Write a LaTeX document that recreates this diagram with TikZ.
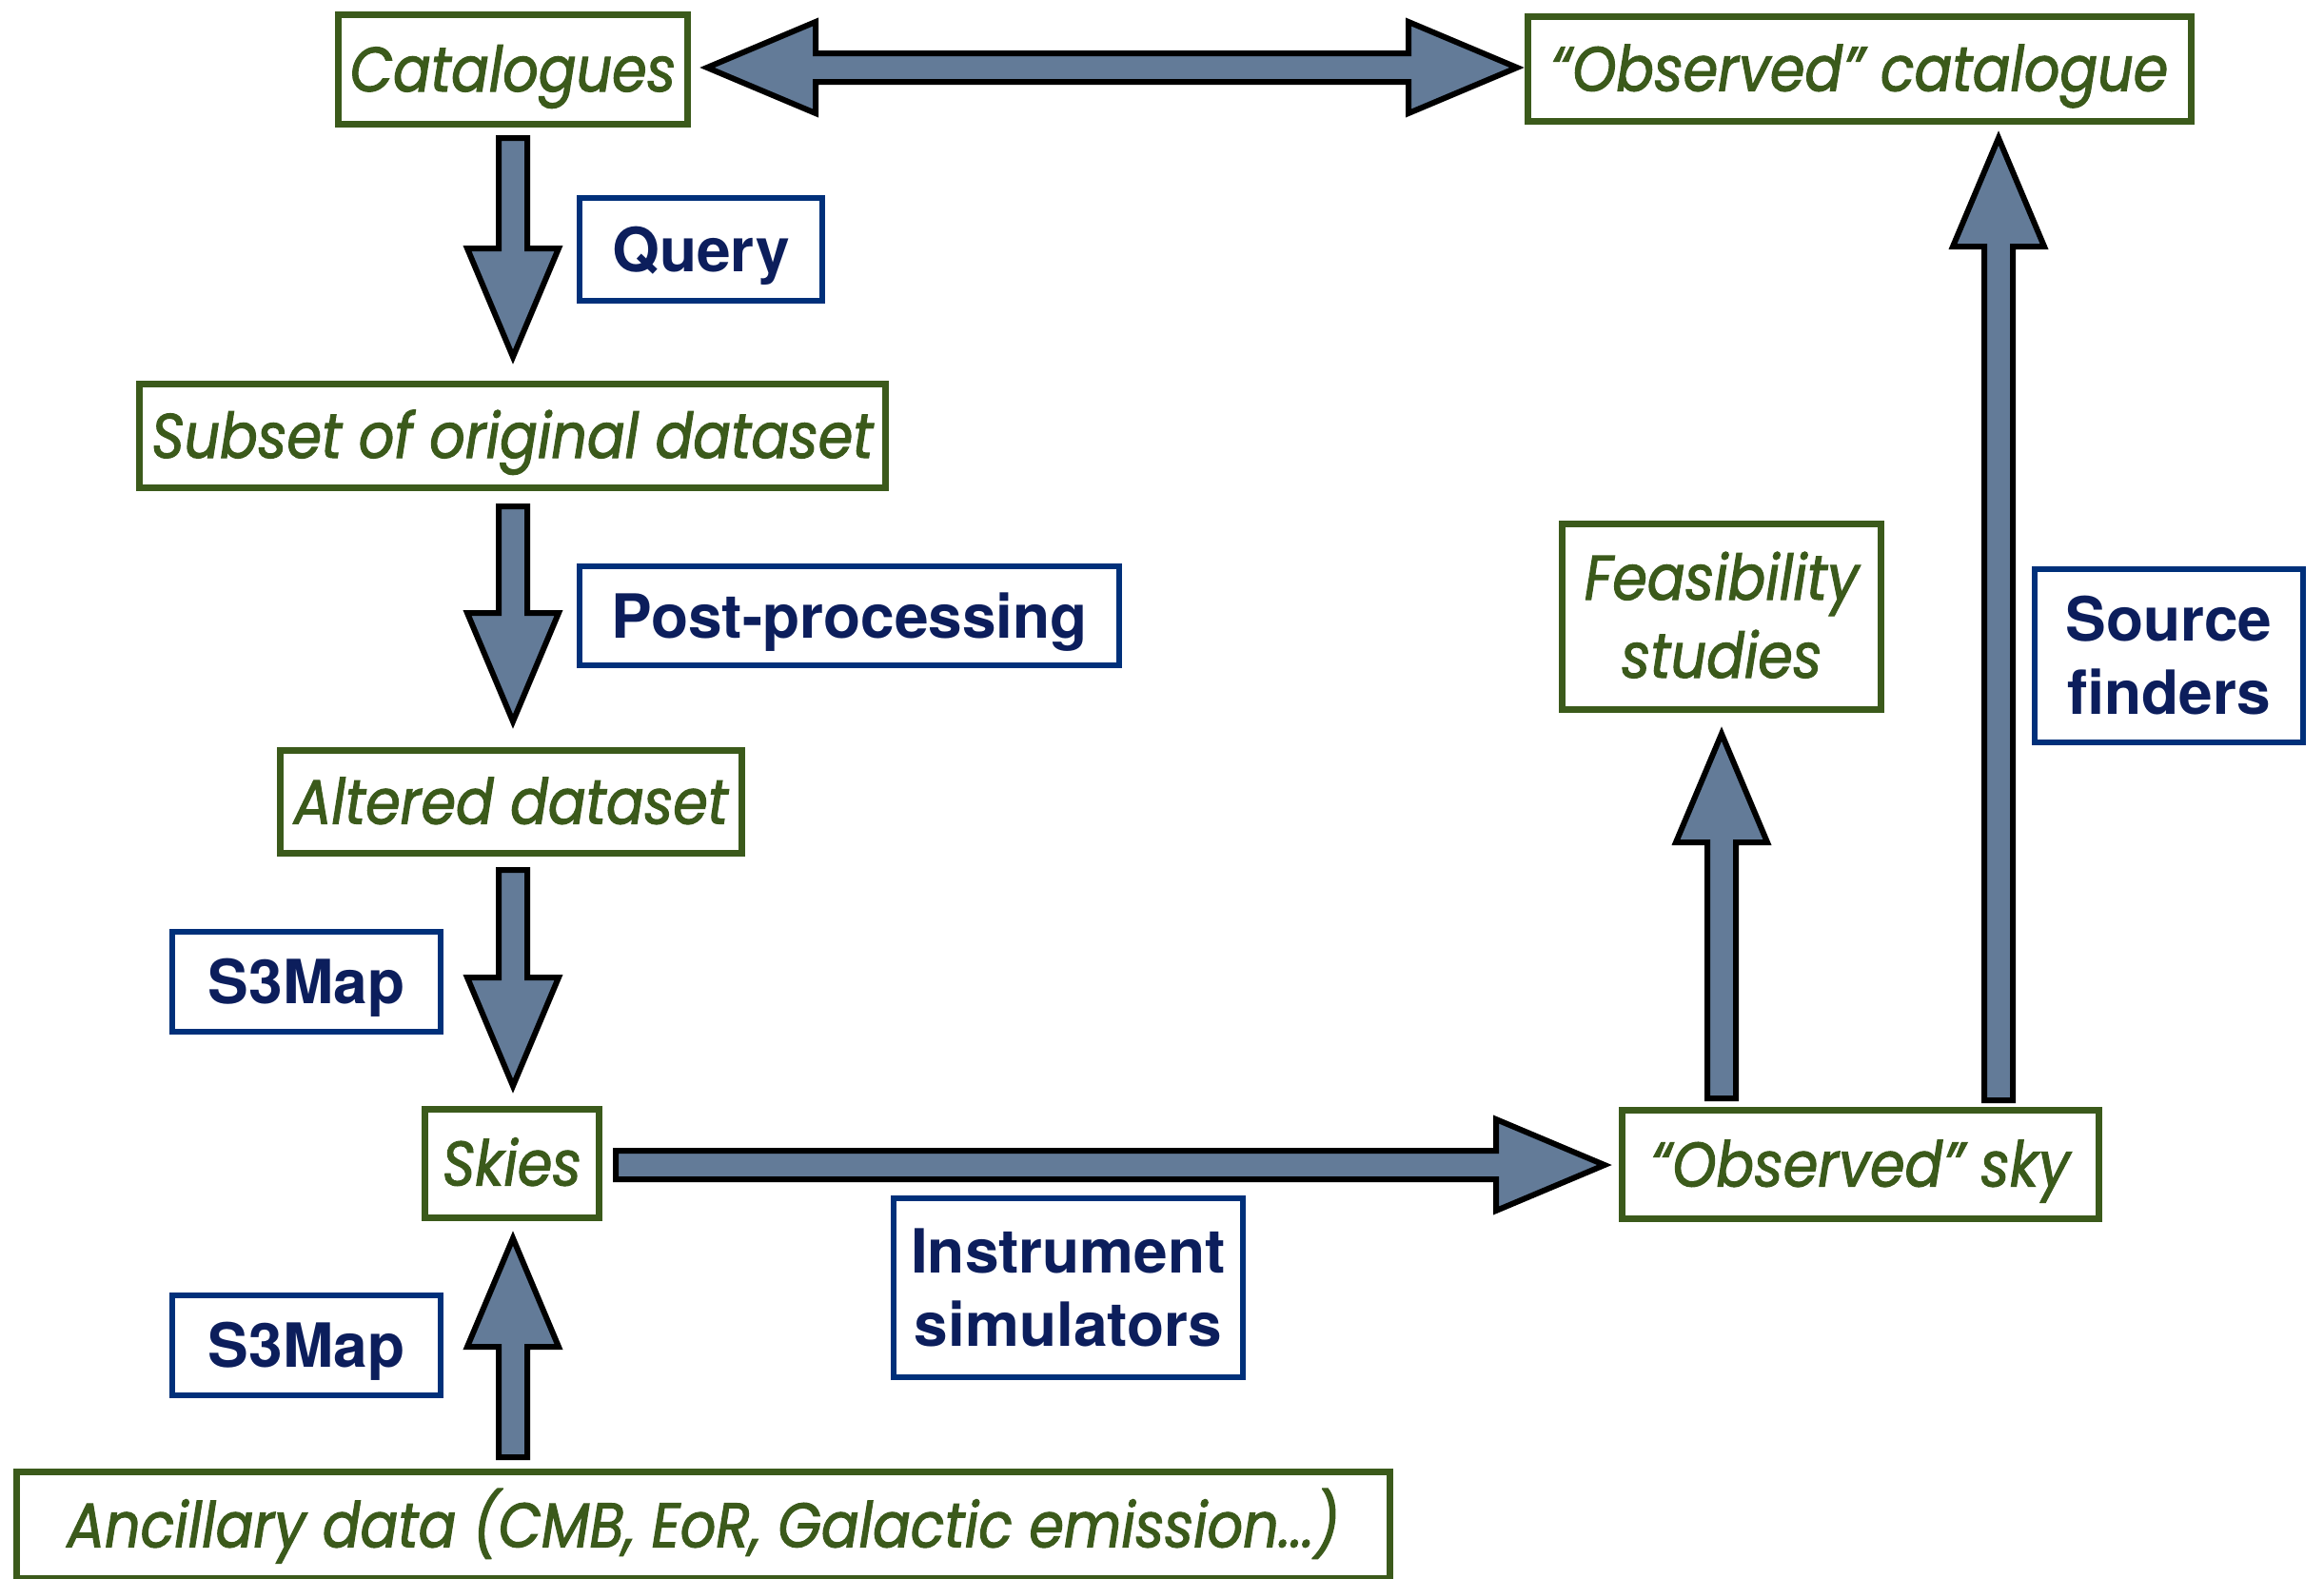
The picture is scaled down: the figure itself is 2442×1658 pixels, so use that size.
\documentclass[tikz,border=0pt]{standalone}
\usepackage{fontspec}
\usetikzlibrary{calc}

\newfontfamily\stagefont[FakeStretch=0.89,FakeBold=1.6]{Poppins}
\newfontfamily\toolfont{TeX Gyre Heros}

\definecolor{stagegreen}{HTML}{3B5A1B}
\definecolor{toolblue}{HTML}{00307A}
\definecolor{tooltext}{HTML}{0C1E5C}
\definecolor{flowfill}{HTML}{637B98}

\tikzset{
  stage/.style={draw=stagegreen, line width=7pt, text=stagegreen, fill=white,
    font=\stagefont\itshape\fontsize{66}{82}\selectfont, align=center, inner sep=0pt,
    text height=46pt, text depth=0pt},
  stagetwo/.style={stage, text height=128pt},
  tool/.style={draw=toolblue, line width=6pt, text=tooltext, fill=white,
    font=\toolfont\bfseries\fontsize{64}{77}\selectfont, align=center, inner sep=0pt,
    text height=46pt, text depth=0pt},
  tooltwo/.style={tool, text height=123pt},
  flow/.style={draw=black, fill=flowfill, line width=6pt, line join=miter, miter limit=20}
}

% block arrow from tail #1 to tip #2 (shaft half width 15pt, head half width 48pt, head length 114pt)
\newcommand\blockarrow[2]{%
  \draw[flow] let \p1=(#1), \p2=(#2),
      \n1={veclen(\x2-\x1,\y2-\y1)}, \n2={atan2(\y2-\y1,\x2-\x1)} in
    [shift={(\p1)}, rotate=\n2]
    (0pt,-15pt) -- ({(\n1-114)*1pt},-15pt) -- ({(\n1-114)*1pt},-48pt)
    -- ({\n1*1pt},0pt) -- ({(\n1-114)*1pt},48pt) -- ({(\n1-114)*1pt},15pt)
    -- (0pt,15pt) -- cycle;}

% block arrow with a head at both ends
\newcommand\twowayarrow[2]{%
  \draw[flow] let \p1=(#1), \p2=(#2),
      \n1={veclen(\x2-\x1,\y2-\y1)}, \n2={atan2(\y2-\y1,\x2-\x1)} in
    [shift={(\p1)}, rotate=\n2]
    (0pt,0pt) -- (114pt,-48pt) -- (114pt,-15pt) -- ({(\n1-114)*1pt},-15pt)
    -- ({(\n1-114)*1pt},-48pt) -- ({\n1*1pt},0pt) -- ({(\n1-114)*1pt},48pt)
    -- ({(\n1-114)*1pt},15pt) -- (114pt,15pt) -- (114pt,48pt) -- cycle;}

\begin{document}
\begin{tikzpicture}[x=1pt,y=-1pt]
  \useasboundingbox[fill=white] (0,0) rectangle (2442,1658);

  % data products
  \node[stage, minimum width=367, minimum height=115] (cat) at (539,73) {Catalogues};
  \node[stage, minimum width=697, minimum height=110] (obscat) at (1954,72.5) {“Observed” catalogue};
  \node[stage, minimum width=784, minimum height=109] (subset) at (538.5,458) {Subset of original dataset};
  \node[stage, minimum width=485, minimum height=108] (altered) at (537,842.5) {Altered dataset};
  \node[stage, minimum width=183, minimum height=114] (skies) at (538,1222.5) {Skies};
  \node[stage, minimum width=1443, minimum height=112] (anc) at (739,1602.5) {Ancillary data (CMB, EoR, Galactic emission...)};
  \node[stage, minimum width=501, minimum height=114] (obssky) at (1955,1223.5) {“Observed” sky};
  \node[stagetwo, minimum width=335, minimum height=195] (feas) at (1809,648) {Feasibility\\studies};

  % processing tools
  \node[tool, minimum width=255, minimum height=108] (query) at (736.5,262) {Query};
  \node[tool, minimum width=567, minimum height=104] (post) at (892.5,647) {Post-processing};
  \node[tool, minimum width=282, minimum height=105] (mapA) at (322,1031.5) {S3Map};
  \node[tool, minimum width=282, minimum height=105] (mapB) at (322,1413.5) {S3Map};
  \node[tooltwo, minimum width=367, minimum height=188] (instr) at (1122.5,1353) {Instrument\\simulators};
  \node[tooltwo, minimum width=282, minimum height=182] (finders) at (2279,689) {Source\\finders};

  % flow arrows
  \coordinate (catR) at ($(cat.east)+(17,-2)$);
  \coordinate (obscatL) at ($(obscat.west)+(-8,-1.5)$);
  \twowayarrow{catR}{obscatL}

  \blockarrow{$(cat.south)+(0,11)$}{$(subset.north)+(0.5,-25)$}
  \blockarrow{$(subset.south)+(0.5,16)$}{$(altered.north)+(2,-27)$}
  \blockarrow{$(altered.south)+(2,14)$}{$(skies.north)+(1,-21)$}
  \blockarrow{$(skies.south |- anc.north)+(1,-12)$}{$(skies.south)+(1,18)$}
  \blockarrow{$(skies.east)+(14,1.5)$}{$(obssky.west)+(-15,0.5)$}
  \blockarrow{$(feas.south |- obssky.north)+(0,-9)$}{$(feas.south)+(0,22)$}
  \coordinate (catTip) at ($(obscat.south)+(146,14)$);
  \blockarrow{$(catTip |- obssky.north)+(0,-7)$}{catTip}
\end{tikzpicture}
\end{document}
